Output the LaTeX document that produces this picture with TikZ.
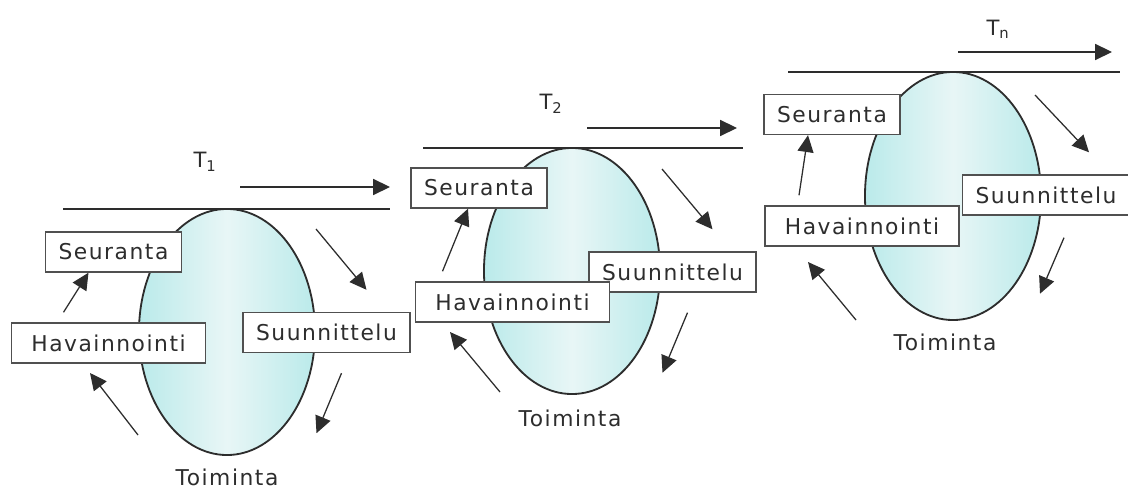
\documentclass[tikz,border=0pt]{standalone}
\usepackage{fontspec}
\setmainfont{DejaVu Sans}[LetterSpace=7]
\usepackage{xcolor}
\usetikzlibrary{shapes.geometric, arrows.meta, positioning}
\definecolor{cyanedge}{RGB}{186,234,234}
\definecolor{cyanmid}{RGB}{232,246,246}
\definecolor{inkgray}{RGB}{45,45,45}
\definecolor{boxgray}{RGB}{80,80,80}
\newcommand{\boxfont}{\fontsize{15.5}{18}\selectfont}
\newcommand{\tfont}{\fontsize{15}{17}\selectfont}
\tikzstyle{oval} = [ellipse, draw=inkgray, line width=1.3pt, minimum width=4.4cm, minimum height=6.15cm, inner sep=0pt, shading=axis, left color=cyanedge, right color=cyanedge, middle color=cyanmid]
\tikzstyle{stepbox} = [rectangle, draw=boxgray, line width=1pt, fill=white, minimum height=1cm, inner xsep=0.33cm, text=inkgray, font=\boxfont]
\tikzstyle{havbox} = [stepbox, minimum width=4.85cm]
\tikzstyle{lbl} = [text=inkgray, font=\boxfont, inner sep=0pt]
\tikzstyle{timeline} = [line width=2pt, draw=inkgray]
\tikzstyle{arrow} = [line width=0.9pt, draw=inkgray, -{Triangle[length=0.42cm, width=0.4cm]}]

\begin{document}
\begin{tikzpicture}[x=0.025cm, y=-0.025cm]
\useasboundingbox (0,0) rectangle (1128,490);

\node (oval1) [oval] at (227,332) {};
\node (oval2) [oval] at (572,271) {};
\node (ovaln) [oval, minimum height=6.2cm] at (953,196) {};

\node (sun1) [stepbox] at (326.5,332.5) {Suunnittelu};
\node (seu1) [stepbox] at (113.5,252) {Seuranta};
\node (hav1) [havbox] at (108.5,343) {Havainnointi};
\node (toim1) [lbl, anchor=base] at (227,485) {Toiminta};
\node (t1) [lbl, font=\tfont] at (205,162) {T\textsubscript{1}};

\node (sun2) [stepbox] at (672.5,272) {Suunnittelu};
\node (seu2) [stepbox] at (479,188) {Seuranta};
\node (hav2) [havbox] at (512.5,302) {Havainnointi};
\node (toim2) [lbl, anchor=base] at (570,426) {Toiminta};
\node (t2) [lbl, font=\tfont] at (551,104) {T\textsubscript{2}};

\node (sunn) [stepbox] at (1046,195) {Suunnittelu};
\node (seun) [stepbox] at (832,114.5) {Seuranta};
\node (havn) [havbox] at (862,226) {Havainnointi};
\node (toimn) [lbl, anchor=base] at (945,351) {Toiminta};
\node (tn) [lbl, font=\tfont] at (998,29) {T\textsubscript{n}};

\coordinate (line1a) at (63,209);
\coordinate (line1b) at (390,209);
\coordinate (time1a) at (240,187);
\coordinate (time1b) at (390,187);
\coordinate (plan1) at (316,229);
\coordinate (back1a) at (138,435);
\coordinate (back1b) at (90,373);
\coordinate (line2a) at (423,148);
\coordinate (line2b) at (743,148);
\coordinate (time2a) at (587,128);
\coordinate (time2b) at (737,128);
\coordinate (plan2) at (662,169);
\coordinate (back2a) at (500,392);
\coordinate (back2b) at (450,332);
\coordinate (linena) at (788,72);
\coordinate (linenb) at (1120,72);
\coordinate (timena) at (958,52);
\coordinate (timenb) at (1112,52);
\coordinate (plann) at (1035,95);
\coordinate (backna) at (856,320);
\coordinate (backnb) at (808,262);

\draw [timeline] (line1a) -- (line1b);
\draw [arrow] (time1a) -- (time1b);
\draw [arrow] (plan1) -- ([shift={(40,-22)}]sun1.north);
\draw [arrow] ([shift={(15,20)}]sun1.south) -- ([shift={(-10,80)}]sun1.south);
\draw [arrow] (back1a) -- (back1b);
\draw [arrow] ([shift={(-45,-10)}]hav1.north) -- ([shift={(-25,0)}]seu1.south);

\draw [timeline] (line2a) -- (line2b);
\draw [arrow] (time2a) -- (time2b);
\draw [arrow] (plan2) -- ([shift={(40,-22)}]sun2.north);
\draw [arrow] ([shift={(15,20)}]sun2.south) -- ([shift={(-10,80)}]sun2.south);
\draw [arrow] (back2a) -- (back2b);
\draw [arrow] ([shift={(-70,-10)}]hav2.north) -- ([shift={(-11,0)}]seu2.south);

\draw [timeline] (linena) -- (linenb);
\draw [arrow] (timena) -- (timenb);
\draw [arrow] (plann) -- ([shift={(43,-22)}]sunn.north);
\draw [arrow] ([shift={(18,22)}]sunn.south) -- ([shift={(-6,78)}]sunn.south);
\draw [arrow] (backna) -- (backnb);
\draw [arrow] ([shift={(-63,-10)}]havn.north) -- ([shift={(-24,0)}]seun.south);
\end{tikzpicture}
\end{document}
